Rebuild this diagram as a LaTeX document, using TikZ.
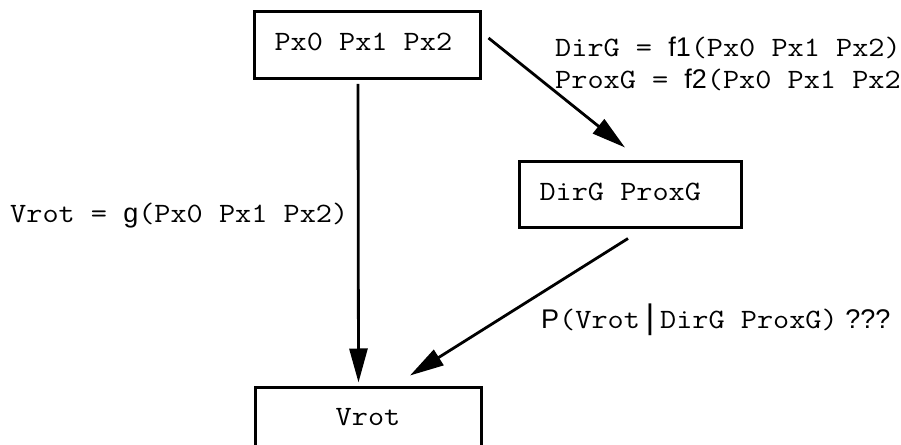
\documentclass[tikz,border=0pt]{standalone}
\usepackage{fontspec}
\setmainfont{Liberation Sans}
\newfontfamily\monof[FakeStretch=1.12]{Latin Modern Mono}
\usetikzlibrary{arrows.meta}
\newcommand\MonoT[1]{{\monof\fontsize{28}{34}\selectfont #1}}
\newcommand\SansT[1]{{\fontsize{27}{32}\selectfont #1}}
\begin{document}
\begin{tikzpicture}[x=1pt,y=1pt,
  box/.style={draw, line width=3pt, rectangle, inner xsep=20pt, inner ysep=0pt,
    text height=17pt, text depth=5pt, font=\monof\fontsize{28}{34}\selectfont},
  arr/.style={line width=2.8pt, -{Triangle[length=34pt,width=18pt]}},
  lbl/.style={anchor=base west, inner sep=0pt}]
\clip (0,0) rectangle (901,444);
\node[box, minimum width=226pt, minimum height=67pt] (top) at (367.5,399) {\makebox[186pt][l]{Px0 Px1 Px2}};
\node[box, minimum width=222pt, minimum height=66pt] (mid) at (630.5,249.5) {\makebox[182pt][l]{DirG ProxG}};
\node[box, minimum width=226pt, minimum height=63pt] (bot) at (368,25) {\makebox[186pt][c]{Vrot}};
\draw[arr] ([shift={(-9.5,-4)}]top.south) -- ([shift={(-9.5,3.5)}]bot.north);
\draw[arr] ([shift={(6.5,7)}]top.east) -- ([shift={(-5.5,12.5)}]mid.north);
\draw[arr] ([shift={(-2.5,-9.5)}]mid.south) -- ([shift={(42,10.5)}]bot.north);
\node[lbl] (l1) at (555,387) {\MonoT{DirG = }\SansT{f1}\MonoT{(Px0 Px1 Px2)}};
\node[lbl] (l2) at (555,355) {\MonoT{ProxG = }\SansT{f2}\MonoT{(Px0 Px1 Px2}};
\node[lbl] (l3) at (10,221) {\MonoT{Vrot = }\SansT{g}\MonoT{(Px0 Px1 Px2)}};
\node[lbl] (l4) at (541,115) {\SansT{P}\MonoT{(Vrot}{\fontsize{34}{36}\selectfont\,|\,}\MonoT{DirG ProxG)}\SansT{ ???}};
\end{tikzpicture}
\end{document}
